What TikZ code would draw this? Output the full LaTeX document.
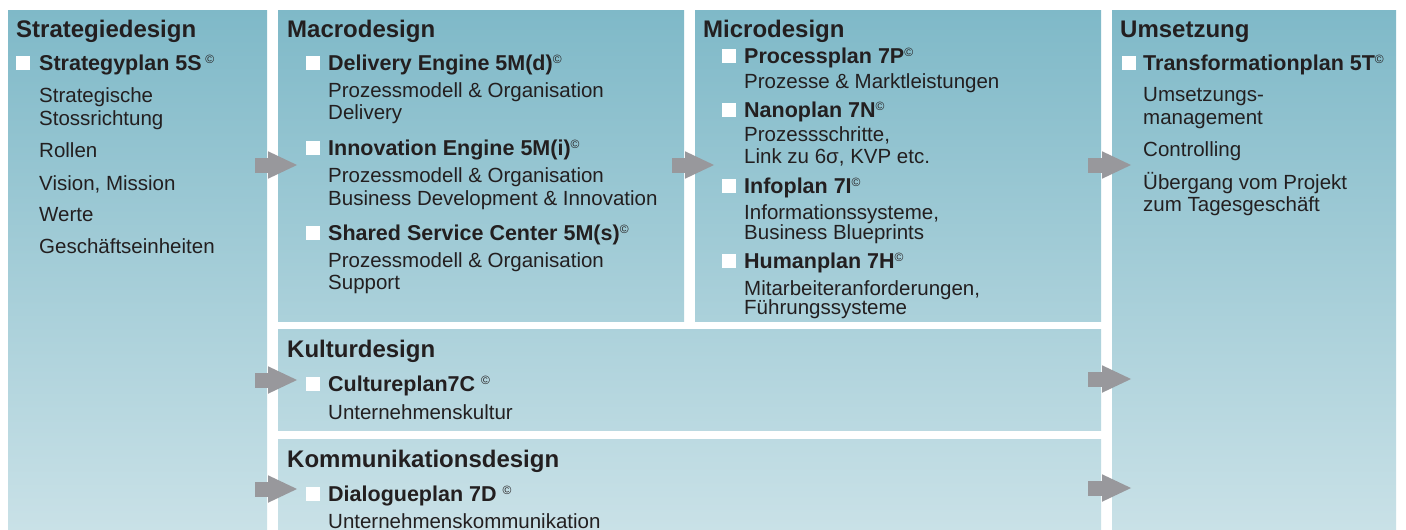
\documentclass[tikz,border=0pt]{standalone}
\usepackage{fontspec}
\setmainfont{Liberation Sans}
\usetikzlibrary{arrows.meta}
\definecolor{topc}{RGB}{127,185,200}
\definecolor{botc}{RGB}{201,225,231}
\definecolor{ink}{RGB}{35,31,32}
\definecolor{arr}{RGB}{152,152,156}
\newcommand\cpr{{\mdseries\fontsize{12}{12}\selectfont\raisebox{6.5pt}{©}}}
\tikzset{
  panel/.style={draw=none, inner sep=0pt, outer sep=0pt, anchor=north west},
  ttl/.style={anchor=base west, inner sep=0pt, text=ink, font=\fontsize{24}{24}\selectfont\bfseries},
  itm/.style={anchor=base west, inner sep=0pt, text=ink, font=\fontsize{21.5}{21.5}\selectfont\bfseries},
  txt/.style={anchor=base west, inner sep=0pt, text=ink, font=\fontsize{20.5}{20.5}\selectfont},
  sq/.style={fill=white, draw=none, inner sep=0pt, minimum width=14pt, minimum height=13.5pt, anchor=south west},
  flow/.style={draw=arr, line width=15pt, -{Triangle[length=30pt,width=25pt]}}
}
\begin{document}
\begin{tikzpicture}[x=1pt,y=-1pt]
\useasboundingbox[fill=white] (0,0) rectangle (1406,530);
% panels
\node[panel, minimum width=259pt, minimum height=520pt, top color=topc, bottom color=botc] (strat) at (8,10) {};
\node[panel, minimum width=406pt, minimum height=311pt, top color=topc, bottom color=botc!60!topc] (macro) at (278,10) {};
\node[panel, minimum width=406pt, minimum height=311pt, top color=topc, bottom color=botc!60!topc] (micro) at (695,10) {};
\node[panel, minimum width=284pt, minimum height=520pt, top color=topc, bottom color=botc] (ums) at (1112,10) {};
\node[panel, minimum width=823pt, minimum height=101pt, top color=botc!61!topc, bottom color=botc!81!topc] (kult) at (278,329) {};
\node[panel, minimum width=823pt, minimum height=91pt, top color=botc!83!topc, bottom color=botc] (komm) at (278,439) {};
% arrows
\coordinate (a1s) at (255,165); \coordinate (a1e) at (298,165);
\coordinate (a2s) at (672,165); \coordinate (a2e) at (715,165);
\coordinate (a3s) at (1088,165); \coordinate (a3e) at (1132,165);
\coordinate (a4s) at (255,380); \coordinate (a4e) at (298,380);
\coordinate (a5s) at (1088,379); \coordinate (a5e) at (1132,379);
\coordinate (a6s) at (255,489); \coordinate (a6e) at (298,489);
\coordinate (a7s) at (1088,488); \coordinate (a7e) at (1132,488);
\foreach \i in {1,...,7} \draw[flow] (a\i s) -- (a\i e);
% Strategiedesign
\node[ttl] (t1) at (16,37) {Strategiedesign};
\node[sq] (s1) at (16,70) {};
\node[itm] (i1) at (39,70) {Strategyplan 5S\,\cpr};
\node[txt] (x1a) at (39,102) {Strategische};
\node[txt] (x1b) at (39,125) {Stossrichtung};
\node[txt] (x1c) at (39,157) {Rollen};
\node[txt] (x1d) at (39,190) {Vision, Mission};
\node[txt] (x1e) at (39,221) {Werte};
\node[txt] (x1f) at (39,253) {Geschäftseinheiten};
% Macrodesign
\node[ttl] (t2) at (287,37) {Macrodesign};
\node[sq] (s2a) at (306,70) {};
\node[itm] (i2a) at (328,70) {Delivery Engine 5M(d)\cpr};
\node[txt] (x2a) at (328,97) {Prozessmodell \& Organisation};
\node[txt] (x2b) at (328,119) {Delivery};
\node[sq] (s2b) at (306,155) {};
\node[itm] (i2b) at (328,155) {Innovation Engine 5M(i)\cpr};
\node[txt] (x2c) at (328,182) {Prozessmodell \& Organisation};
\node[txt] (x2d) at (328,205) {Business Development \& Innovation};
\node[sq] (s2c) at (306,240) {};
\node[itm] (i2c) at (328,240) {Shared Service Center 5M(s)\cpr};
\node[txt] (x2e) at (328,267) {Prozessmodell \& Organisation};
\node[txt] (x2f) at (328,289) {Support};
% Microdesign
\node[ttl] (t3) at (703,37) {Microdesign};
\node[sq] (s3a) at (722,63) {};
\node[itm] (i3a) at (744,63) {Processplan 7P\cpr};
\node[txt] (x3a) at (744,88) {Prozesse \& Marktleistungen};
\node[sq] (s3b) at (722,117) {};
\node[itm] (i3b) at (744,117) {Nanoplan 7N\cpr};
\node[txt] (x3b) at (744,141) {Prozessschritte,};
\node[txt] (x3c) at (744,163) {Link zu 6σ, KVP etc.};
\node[sq] (s3c) at (722,193) {};
\node[itm] (i3c) at (744,193) {Infoplan 7I\cpr};
\node[txt] (x3d) at (744,219) {Informationssysteme,};
\node[txt] (x3e) at (744,239) {Business Blueprints};
\node[sq] (s3d) at (722,268) {};
\node[itm] (i3d) at (744,268) {Humanplan 7H\cpr};
\node[txt] (x3f) at (744,295) {Mitarbeiteranforderungen,};
\node[txt] (x3g) at (744,314) {Führungssysteme};
% Umsetzung
\node[ttl] (t4) at (1120,37) {Umsetzung};
\node[sq] (s4) at (1122,70) {};
\node[itm] (i4) at (1143,70) {Transformationplan 5T\cpr};
\node[txt] (x4a) at (1143,101) {Umsetzungs-};
\node[txt] (x4b) at (1143,124) {management};
\node[txt] (x4c) at (1143,156) {Controlling};
\node[txt] (x4d) at (1143,189) {Übergang vom Projekt};
\node[txt] (x4e) at (1143,211) {zum Tagesgeschäft};
% Kulturdesign
\node[ttl] (t5) at (287,357) {Kulturdesign};
\node[sq] (s5) at (306,391) {};
\node[itm] (i5) at (328,391) {Cultureplan7C \cpr};
\node[txt] (x5) at (328,419) {Unternehmenskultur};
% Kommunikationsdesign
\node[ttl] (t6) at (287,467) {Kommunikationsdesign};
\node[sq] (s6) at (306,501) {};
\node[itm] (i6) at (328,501) {Dialogueplan 7D \cpr};
\node[txt] (x6) at (328,528) {Unternehmenskommunikation};
\end{tikzpicture}
\end{document}
